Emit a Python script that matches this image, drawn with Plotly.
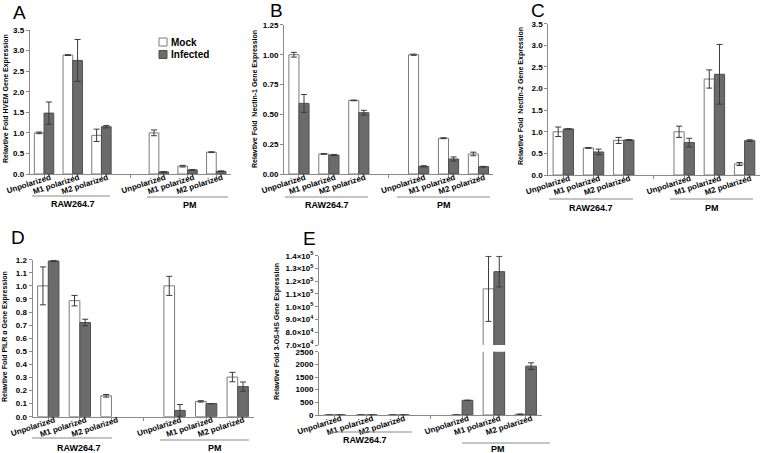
import plotly.graph_objects as go

W, H = 760, 453


def px(x):
    return x / W


def py(y):
    return 1 - y / H


# ---------------- data ----------------
conditions = ["Unpolarized", "M1 polarized", "M2 polarized"]
cell_types = ["RAW264.7", "PM"]
series_names = ["Mock", "Infected"]

# bar positions: 3 conditions per cell type, one empty slot between groups
xpos = [i + 4 * g for g in range(len(cell_types)) for i in range(len(conditions))]
tickvals = xpos
ticktext = conditions + conditions

# A: HVEM
hvem_mock = [1.00, 2.89, 0.94, 1.00, 0.19, 0.53]
hvem_mock_err = [0.02, 0.01, 0.15, 0.07, 0.02, 0.01]
hvem_inf = [1.48, 2.76, 1.15, 0.05, 0.10, 0.065]
hvem_inf_err = [0.27, 0.51, 0.03, 0.01, 0.01, 0.01]

# B: Nectin-1
nec1_mock = [1.00, 0.168, 0.617, 1.00, 0.30, 0.168]
nec1_mock_err = [0.02, 0.003, 0.003, 0.005, 0.004, 0.015]
nec1_inf = [0.592, 0.159, 0.514, 0.064, 0.126, 0.061]
nec1_inf_err = [0.075, 0.005, 0.02, 0.005, 0.017, 0.003]

# C: Nectin-2
nec2_mock = [1.00, 0.626, 0.80, 1.00, 2.22, 0.255]
nec2_mock_err = [0.11, 0.01, 0.07, 0.13, 0.21, 0.035]
nec2_inf = [1.066, 0.533, 0.81, 0.75, 2.33, 0.795]
nec2_inf_err = [0.0, 0.065, 0.01, 0.10, 0.69, 0.02]

# D: PILR alpha
pilr_mock = [1.00, 0.887, 0.16, 1.00, 0.117, 0.303]
pilr_mock_err = [0.145, 0.04, 0.01, 0.073, 0.005, 0.036]
pilr_inf = [1.19, 0.72, None, 0.048, 0.10, 0.23]
pilr_inf_err = [0.005, 0.025, None, 0.045, 0.0, 0.035]

# E: 3-OS-HS
ost_mock = [1, 1, 1, 1, 114000, 30]
ost_mock_err = [None, None, None, None, 25500, None]
ost_inf = [1, 1, 1, 580, 127500, 1930]
ost_inf_err = [None, None, None, 5, 12000, 130]

upper_tickvals = [70000, 80000, 90000, 100000, 110000, 120000, 130000, 140000]
upper_ticktext = ["7.0×10<sup>4</sup>", "8.0×10<sup>4</sup>", "9.0×10<sup>4</sup>",
                  "1.0×10<sup>5</sup>", "1.1×10<sup>5</sup>", "1.2×10<sup>5</sup>",
                  "1.3×10<sup>5</sup>", "1.4×10<sup>5</sup>"]

# ---------------- styling ----------------
FONT = "Liberation Sans, Arial, sans-serif"
AXC = "#8a8a8a"
MOCK_FILL = "white"
MOCK_LINE = "#7a7a7a"
INF_FILL = "#6b6b6b"
INF_LINE = "#4e4e4e"
ERRC = "#3a3a3a"

fig = go.Figure()

panels = [
    # key, mock, mock_err, inf, inf_err, x0, x1, ytop, ybot, range, dtick, fmt
    ("", hvem_mock, hvem_mock_err, hvem_inf, hvem_inf_err, 29.7, 230.6, 30, 174, [0, 3.5], 0.5, ".1f"),
    ("2", nec1_mock, nec1_mock_err, nec1_inf, nec1_inf_err, 284, 493.4, 24.9, 174, [0, 1.25], 0.25, ".2f"),
    ("3", nec2_mock, nec2_mock_err, nec2_inf, nec2_inf_err, 548.2, 759.7, 23.7, 175, [0, 3.5], 0.5, ".1f"),
    ("4", pilr_mock, pilr_mock_err, pilr_inf, pilr_inf_err, 32.5, 253.5, 259.7, 416.7, [0, 1.2], 0.1, ".1f"),
    ("5", ost_mock, ost_mock_err, ost_inf, ost_inf_err, 319, 541.6, 351.7, 415, [0, 2500], 500, "d"),
]

tick_font = dict(family=FONT, size=8, color="black", weight="bold")

layout_axes = {}
for key, mk, mke, inf, infe, x0, x1, yt, yb, rng, dt, fmt in panels:
    xa = "x" + key
    ya = "y" + key
    fig.add_trace(go.Bar(
        x=xpos, y=mk, name="Mock", xaxis=xa, yaxis=ya, showlegend=False,
        marker=dict(color=MOCK_FILL, line=dict(color=MOCK_LINE, width=1)),
        error_y=dict(type="data", array=mke, visible=True, thickness=1, width=3, color=ERRC),
    ))
    fig.add_trace(go.Bar(
        x=xpos, y=inf, name="Infected", xaxis=xa, yaxis=ya, showlegend=False,
        marker=dict(color=INF_FILL, line=dict(color=INF_LINE, width=1)),
        error_y=dict(type="data", array=infe, visible=True, thickness=1, width=3, color=ERRC),
    ))
    layout_axes["xaxis" + key] = dict(
        domain=[px(x0), px(x1)], anchor=ya, range=[-0.5, 6.5], automargin=False,
        tickvals=tickvals, ticktext=ticktext, tickangle=-18,
        ticklabeloverflow="allow", ticklabelstandoff=-8, ticklabelshift=6,
        ticks="outside", ticklen=3, tickcolor=AXC, showline=True, linecolor=AXC,
        minor=dict(tickvals=[3], ticks="outside", ticklen=3, tickcolor=AXC),
        linewidth=1, showgrid=False, zeroline=False, tickfont=tick_font, fixedrange=True,
    )
    layout_axes["yaxis" + key] = dict(
        domain=[py(yb), py(yt)], anchor=xa, range=rng, dtick=dt, tick0=0, automargin=False,
        tickformat=fmt, ticks="outside", ticklen=3, tickcolor=AXC, showline=True,
        linecolor=AXC, linewidth=1, showgrid=False, zeroline=False,
        tickfont=tick_font, fixedrange=True, ticklabeloverflow="allow",
    )

# E upper (broken axis) segment
fig.add_trace(go.Bar(
    x=xpos, y=ost_mock, name="Mock", xaxis="x6", yaxis="y6", showlegend=False,
    marker=dict(color=MOCK_FILL, line=dict(color=MOCK_LINE, width=1)),
    error_y=dict(type="data", array=ost_mock_err, visible=True, thickness=1, width=3, color=ERRC),
))
fig.add_trace(go.Bar(
    x=xpos, y=ost_inf, name="Infected", xaxis="x6", yaxis="y6", showlegend=False,
    marker=dict(color=INF_FILL, line=dict(color=INF_LINE, width=1)),
    error_y=dict(type="data", array=ost_inf_err, visible=True, thickness=1, width=3, color=ERRC),
))
layout_axes["xaxis6"] = dict(domain=[px(319), px(541.6)], anchor="y6", range=[-0.5, 6.5],
                             matches="x5", visible=False, fixedrange=True, automargin=False)
layout_axes["yaxis6"] = dict(
    domain=[py(345), py(255.7)], anchor="x6", range=[70000, 140000], automargin=False,
    tickvals=upper_tickvals, ticktext=upper_ticktext, ticks="outside", ticklen=3,
    tickcolor=AXC, showline=True, linecolor=AXC, linewidth=1, showgrid=False,
    zeroline=False, tickfont=tick_font, fixedrange=True, ticklabeloverflow="allow",
)

annotations = []
shapes = []

# panel letters
for letter, cx, cy in [("A", 19, 12), ("B", 276, 10), ("C", 538, 10), ("D", 18, 237), ("E", 309, 238)]:
    annotations.append(dict(text=letter, x=px(cx), y=py(cy), xref="paper", yref="paper",
                            showarrow=False, xanchor="center", yanchor="middle",
                            font=dict(family=FONT, size=19, color="black")))

# y-axis titles
ytitles = [
    ("Relavtive Fold HVEM Gene Expression", 6, 99),
    ("Relavtive Fold  Nectin-1 Gene Expression", 255, 99),
    ("Relavtive Fold  Nectin-2 Gene Expression", 521, 96),
    ("Relavtive Fold PILR α Gene Expression", 5, 337),
    ("Relavtive Fold 3-OS-HS Gene Expression", 277, 332),
]
for t, cx, cy in ytitles:
    annotations.append(dict(text=t, x=px(cx), y=py(cy), xref="paper", yref="paper",
                            showarrow=False, textangle=-90, xanchor="center", yanchor="middle",
                            font=dict(family=FONT, size=7, color="black", weight="bold")))

# group labels with lines
groups = [
    # (label, line x0, line x1, line y, label x, label y)
    (cell_types[0], 32, 110, 196, 73, 204), (cell_types[1], 147, 228, 197, 190, 205),
    (cell_types[0], 285, 368, 197, 327, 205), (cell_types[1], 397, 490, 197, 444, 205),
    (cell_types[0], 549, 633, 199, 591, 208), (cell_types[1], 670, 753, 199, 712, 208),
    (cell_types[0], 32, 112, 438, 79, 448), (cell_types[1], 160, 249, 440, 215, 448),
    (cell_types[0], 329, 412, 432, 365, 440), (cell_types[1], 462, 550, 443, 498, 449),
]
for lab, lx0, lx1, ly, tx, ty in groups:
    shapes.append(dict(type="line", xref="paper", yref="paper", x0=px(lx0), x1=px(lx1),
                       y0=py(ly), y1=py(ly), line=dict(color=AXC, width=1)))
    annotations.append(dict(text=lab, x=px(tx), y=py(ty), xref="paper", yref="paper",
                            showarrow=False, xanchor="center", yanchor="middle",
                            font=dict(family=FONT, size=9, color="black", weight="bold")))

# legend (panel A)
for name, fill, line, cy in [(series_names[0], MOCK_FILL, MOCK_LINE, 42), (series_names[1], INF_FILL, INF_LINE, 54.5)]:
    shapes.append(dict(type="rect", xref="paper", yref="paper", x0=px(159), x1=px(167),
                       y0=py(cy + 4), y1=py(cy - 4), fillcolor=fill, line=dict(color=line, width=1)))
    annotations.append(dict(text=name, x=px(168.5), y=py(cy), xref="paper", yref="paper",
                            showarrow=False, xanchor="left", yanchor="middle",
                            font=dict(family=FONT, size=10, color="black", weight="bold")))

fig.update_layout(
    width=W, height=H, autosize=False,
    margin=dict(l=0, r=0, t=0, b=0),
    paper_bgcolor="white", plot_bgcolor="white",
    barmode="group", bargap=0.325, bargroupgap=0,
    showlegend=False, hovermode=False,
    annotations=annotations, shapes=shapes,
    font=dict(family=FONT),
    **layout_axes,
)

fig.write_html(
    "out.html",
    config={"displayModeBar": False, "staticPlot": True},
    post_script="document.body.style.margin='0px';document.body.style.overflow='hidden';",
)
